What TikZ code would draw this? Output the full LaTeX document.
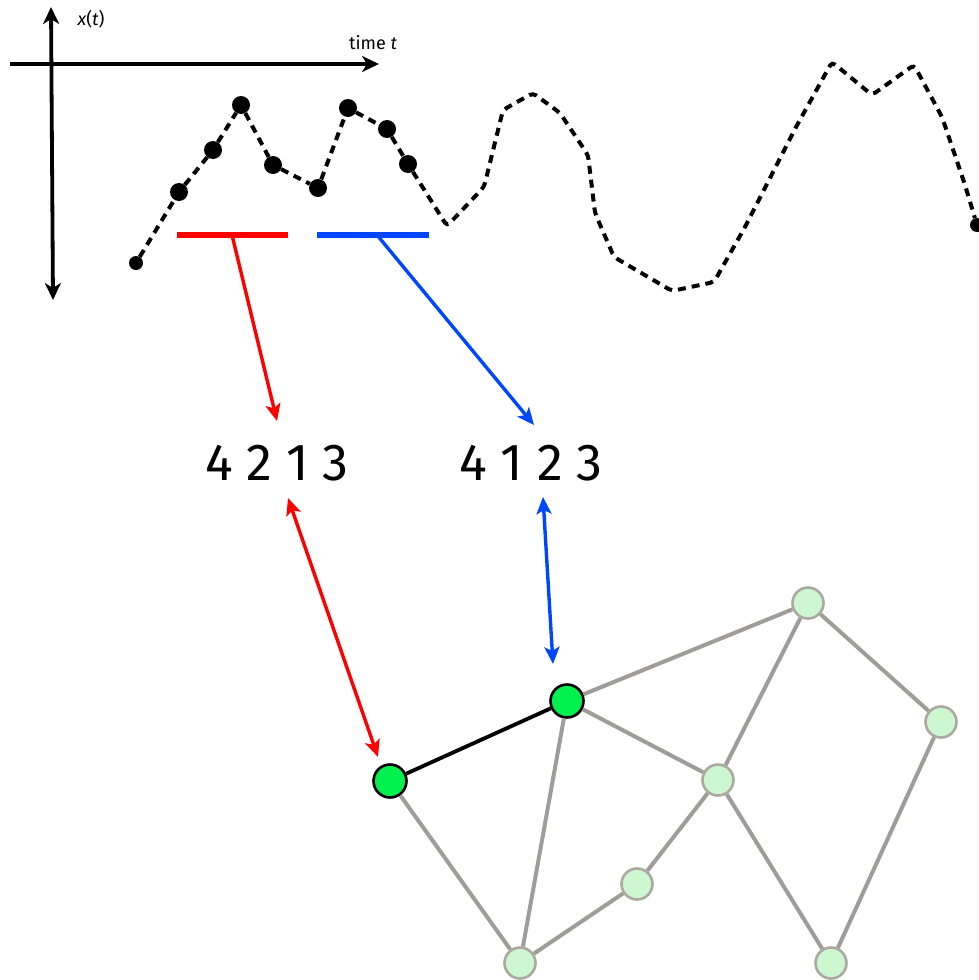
\documentclass[tikz,border=0pt]{standalone}
\usepackage{fontspec}
\setmainfont{Fira Sans}
\usetikzlibrary{arrows.meta}
\definecolor{edgegray}{RGB}{160,157,152}
\definecolor{hotgreen}{RGB}{0,240,80}
\definecolor{palegreen}{RGB}{204,247,208}
\definecolor{palerim}{RGB}{170,170,160}
\definecolor{myred}{RGB}{255,0,0}
\definecolor{myblue}{RGB}{0,70,255}
\tikzset{
  axtip/.style={Stealth[length=17pt,width=16pt,inset=5pt]},
  artip/.style={Stealth[length=17pt,width=15pt,inset=4pt]},
  axisline/.style={line width=3.8pt,{Stealth[length=17pt,width=16pt,inset=5pt]}-{Stealth[length=17pt,width=16pt,inset=5pt]}},
  axisright/.style={line width=3.8pt,-{Stealth[length=17pt,width=16pt,inset=5pt]}},
  dot/.style={circle,fill=black,inner sep=0pt,minimum size=18pt},
  smalldot/.style={circle,fill=black,inner sep=0pt,minimum size=14pt},
  dashline/.style={line width=4pt,dash pattern=on 8pt off 6pt},
  bar/.style={line width=5.5pt},
  arr/.style={line width=3.4pt,-{Stealth[length=17pt,width=15pt,inset=4pt]}},
  darr/.style={line width=3.4pt,{Stealth[length=17pt,width=15pt,inset=4pt]}-{Stealth[length=17pt,width=15pt,inset=4pt]}},
  hot/.style={circle,draw=black,line width=2.6pt,fill=hotgreen,minimum size=33pt,inner sep=0pt},
  pale/.style={circle,draw=palerim,line width=2.6pt,fill=palegreen,minimum size=31pt,inner sep=0pt},
  gedge/.style={edgegray,line width=4pt},
  bedge/.style={black,line width=3.8pt},
  nums/.style={font=\fontsize{52}{60}\selectfont,inner sep=0pt},
  lab/.style={font=\fontsize{18}{20}\selectfont,inner sep=0pt}
}
\begin{document}
\begin{tikzpicture}[x=1pt,y=-1pt]
\useasboundingbox (0,0) rectangle (979,980);
% axes
\coordinate (ytop) at (51,7);
\coordinate (ybot) at (53,300);
\coordinate (xl) at (10,64);
\coordinate (xr) at (379,64);
\draw[axisline] (ybot) -- (ytop);
\draw[axisright] (xl) -- (xr);
\node[lab] (xlab) at (91,19) {\textit{x}(\textit{t})};
\node[lab] (tlab) at (373,43) {time \textit{t}};
% data points
\node[smalldot] (d1) at (136,263) {};
\node[dot] (d2) at (179,192) {};
\node[dot] (d3) at (213,150) {};
\node[dot] (d4) at (241,105) {};
\node[dot] (d5) at (273,165) {};
\node[dot] (d6) at (318,188) {};
\node[dot] (d7) at (348,108) {};
\node[dot] (d8) at (387,129) {};
\node[dot] (d9) at (408,164) {};
\node[smalldot] (dend) at (977,225) {};
\draw[dashline] (d1) -- (d2) -- (d3) -- (d4) -- (d5) -- (d6) -- (d7) -- (d8) -- (d9);
\draw[dashline,rounded corners=4pt] (d9) -- (447,226) -- (484,187) -- (503,110) -- (533,93)
  -- (560,113) -- (588,155) -- (595,213) -- (614,257) -- (672,291) -- (714,282)
  -- (745,227) -- (796,127) -- (832,62) -- (872,95) -- (914,65) -- (942,117) -- (965,185) -- (dend);
% bars
\coordinate (rl) at (177,235); \coordinate (rr) at (288,235); \coordinate (rm) at (232,235);
\coordinate (bl) at (317,235); \coordinate (br) at (429,235); \coordinate (bm) at (377,235);
\draw[bar,myred] (rl) -- (rr);
\draw[bar,myblue] (bl) -- (br);
% numbers
\node[nums] (n1) at (277,463) {4 2 1 3};
\node[nums] (n2) at (531,463) {4 1 2 3};
\coordinate (rtip) at (277,421);
\coordinate (btip) at (534,425);
\draw[arr,myred] (rm) -- (rtip);
\draw[arr,myblue] (bm) -- (btip);
% graph
\node[hot] (A) at (390,781) {};
\node[hot] (B) at (567,701) {};
\node[pale] (C) at (808,603) {};
\node[pale] (D) at (941,722) {};
\node[pale] (E) at (718,780) {};
\node[pale] (F) at (637,884) {};
\node[pale] (G) at (520,963) {};
\node[pale] (H) at (831,963) {};
\draw[gedge] (A) -- (G);
\draw[gedge] (B) -- (G);
\draw[gedge] (B) -- (C);
\draw[gedge] (B) -- (E);
\draw[gedge] (C) -- (E);
\draw[gedge] (C) -- (D);
\draw[gedge] (E) -- (F);
\draw[gedge] (F) -- (G);
\draw[gedge] (E) -- (H);
\draw[gedge] (D) -- (H);
\draw[bedge] (A) -- (B);
% double arrows
\coordinate (ra) at (288,498);
\coordinate (rb) at (378,757);
\coordinate (ba) at (543,497);
\coordinate (bb) at (553,664);
\draw[darr,myred] (ra) -- (rb);
\draw[darr,myblue] (ba) -- (bb);
\end{tikzpicture}
\end{document}
